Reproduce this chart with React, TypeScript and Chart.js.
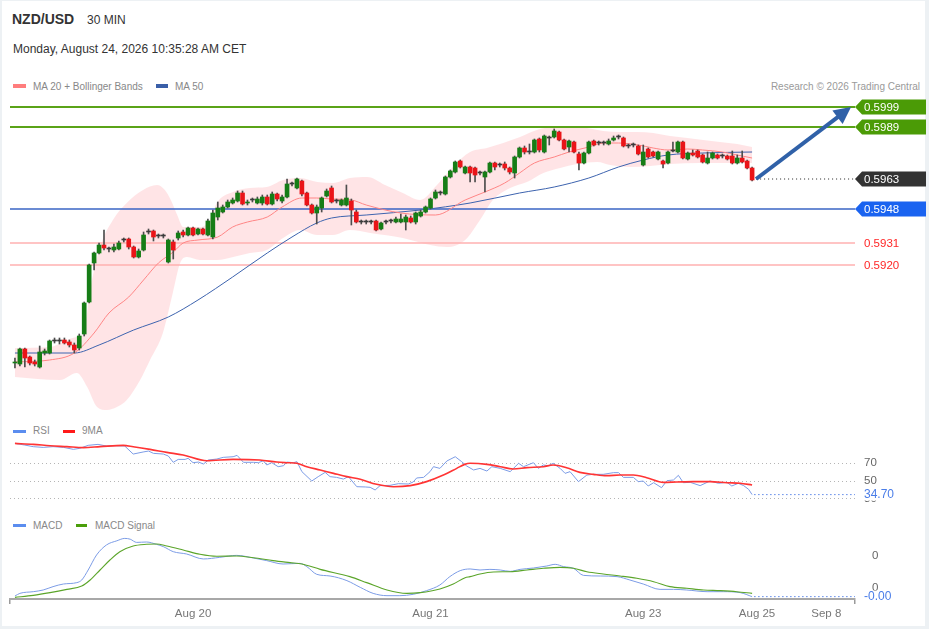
import React, { useEffect, useRef } from 'react';
import { Chart, registerables } from 'chart.js';
Chart.register(...registerables);

const FONT = '"Liberation Sans", Arial, Helvetica, sans-serif';
Chart.defaults.font.family = FONT;

// ---------- price candles (30 min) ----------
const opens = [0.58710,0.58705,0.58780,0.58740,0.58715,0.58690,0.58760,0.58760,0.58820,0.58820,0.58825,0.58815,0.58800,0.58785,0.58855,0.59015,0.59210,0.59260,0.59300,0.59280,0.59275,0.59280,0.59325,0.59330,0.59290,0.59240,0.59275,0.59365,0.59370,0.59345,0.59345,0.59215,0.59315,0.59335,0.59365,0.59350,0.59385,0.59355,0.59380,0.59350,0.59340,0.59440,0.59465,0.59490,0.59510,0.59520,0.59560,0.59510,0.59525,0.59510,0.59510,0.59540,0.59505,0.59555,0.59520,0.59540,0.59605,0.59585,0.59620,0.59560,0.59500,0.59460,0.59485,0.59545,0.59585,0.59520,0.59500,0.59500,0.59520,0.59465,0.59415,0.59415,0.59415,0.59420,0.59380,0.59415,0.59420,0.59415,0.59415,0.59415,0.59435,0.59415,0.59445,0.59465,0.59485,0.59535,0.59560,0.59555,0.59640,0.59665,0.59720,0.59660,0.59690,0.59685,0.59660,0.59640,0.59665,0.59710,0.59700,0.59705,0.59685,0.59660,0.59740,0.59785,0.59765,0.59765,0.59830,0.59765,0.59835,0.59840,0.59865,0.59825,0.59790,0.59815,0.59755,0.59710,0.59760,0.59820,0.59810,0.59810,0.59805,0.59825,0.59840,0.59835,0.59795,0.59800,0.59795,0.59700,0.59780,0.59765,0.59730,0.59720,0.59710,0.59770,0.59765,0.59815,0.59730,0.59760,0.59770,0.59750,0.59710,0.59735,0.59750,0.59745,0.59745,0.59745,0.59710,0.59735,0.59720,0.59685];
const highs = [0.58735,0.58785,0.58785,0.58745,0.58725,0.58795,0.58780,0.58825,0.58835,0.58835,0.58835,0.58825,0.58810,0.58855,0.59015,0.59205,0.59265,0.59310,0.59375,0.59290,0.59305,0.59320,0.59335,0.59335,0.59295,0.59280,0.59365,0.59380,0.59375,0.59355,0.59355,0.59330,0.59325,0.59370,0.59375,0.59390,0.59390,0.59385,0.59385,0.59430,0.59475,0.59515,0.59500,0.59525,0.59535,0.59570,0.59570,0.59525,0.59535,0.59540,0.59550,0.59550,0.59565,0.59560,0.59550,0.59630,0.59615,0.59635,0.59625,0.59565,0.59505,0.59500,0.59540,0.59580,0.59595,0.59530,0.59530,0.59600,0.59530,0.59475,0.59425,0.59425,0.59425,0.59425,0.59415,0.59425,0.59430,0.59440,0.59455,0.59450,0.59445,0.59465,0.59475,0.59495,0.59535,0.59575,0.59570,0.59645,0.59675,0.59720,0.59725,0.59695,0.59695,0.59690,0.59670,0.59670,0.59715,0.59715,0.59710,0.59715,0.59690,0.59745,0.59790,0.59795,0.59805,0.59830,0.59835,0.59850,0.59845,0.59880,0.59870,0.59830,0.59825,0.59820,0.59765,0.59765,0.59820,0.59825,0.59820,0.59820,0.59830,0.59845,0.59850,0.59840,0.59805,0.59810,0.59800,0.59800,0.59785,0.59770,0.59770,0.59725,0.59770,0.59815,0.59820,0.59820,0.59765,0.59775,0.59775,0.59755,0.59765,0.59765,0.59755,0.59755,0.59750,0.59770,0.59750,0.59770,0.59725,0.59690];
const lows = [0.58685,0.58695,0.58690,0.58700,0.58695,0.58685,0.58750,0.58755,0.58810,0.58805,0.58805,0.58790,0.58760,0.58775,0.58845,0.59010,0.59175,0.59255,0.59275,0.59265,0.59265,0.59275,0.59315,0.59280,0.59235,0.59235,0.59270,0.59355,0.59320,0.59335,0.59335,0.59210,0.59230,0.59325,0.59340,0.59345,0.59345,0.59350,0.59350,0.59345,0.59330,0.59425,0.59460,0.59485,0.59505,0.59515,0.59500,0.59500,0.59515,0.59505,0.59500,0.59500,0.59500,0.59520,0.59510,0.59535,0.59595,0.59580,0.59545,0.59495,0.59455,0.59405,0.59465,0.59540,0.59510,0.59510,0.59495,0.59495,0.59400,0.59410,0.59405,0.59405,0.59405,0.59370,0.59375,0.59405,0.59410,0.59410,0.59410,0.59375,0.59410,0.59405,0.59440,0.59460,0.59480,0.59530,0.59550,0.59550,0.59635,0.59660,0.59685,0.59655,0.59615,0.59615,0.59650,0.59565,0.59660,0.59675,0.59690,0.59675,0.59655,0.59635,0.59735,0.59755,0.59755,0.59760,0.59765,0.59760,0.59800,0.59835,0.59820,0.59775,0.59765,0.59760,0.59675,0.59705,0.59755,0.59795,0.59800,0.59800,0.59800,0.59820,0.59830,0.59790,0.59785,0.59790,0.59750,0.59695,0.59735,0.59740,0.59725,0.59685,0.59705,0.59765,0.59760,0.59730,0.59725,0.59745,0.59735,0.59710,0.59705,0.59730,0.59730,0.59735,0.59725,0.59705,0.59705,0.59710,0.59680,0.59620];
const closes = [0.58715,0.58780,0.58735,0.58710,0.58705,0.58765,0.58770,0.58820,0.58820,0.58820,0.58810,0.58800,0.58775,0.58845,0.59010,0.59200,0.59260,0.59300,0.59285,0.59280,0.59290,0.59310,0.59325,0.59290,0.59240,0.59270,0.59350,0.59365,0.59340,0.59345,0.59345,0.59325,0.59275,0.59360,0.59350,0.59385,0.59350,0.59380,0.59355,0.59420,0.59460,0.59485,0.59490,0.59515,0.59525,0.59560,0.59505,0.59515,0.59525,0.59530,0.59540,0.59505,0.59555,0.59530,0.59540,0.59605,0.59605,0.59630,0.59555,0.59500,0.59460,0.59490,0.59535,0.59570,0.59515,0.59520,0.59525,0.59535,0.59475,0.59415,0.59415,0.59415,0.59415,0.59375,0.59410,0.59415,0.59420,0.59430,0.59430,0.59440,0.59415,0.59460,0.59465,0.59490,0.59530,0.59565,0.59560,0.59640,0.59670,0.59715,0.59690,0.59690,0.59660,0.59650,0.59660,0.59665,0.59710,0.59690,0.59700,0.59685,0.59665,0.59740,0.59785,0.59765,0.59765,0.59825,0.59775,0.59845,0.59835,0.59870,0.59825,0.59780,0.59820,0.59765,0.59710,0.59760,0.59815,0.59800,0.59810,0.59810,0.59820,0.59835,0.59840,0.59795,0.59795,0.59800,0.59755,0.59765,0.59740,0.59745,0.59765,0.59705,0.59765,0.59770,0.59815,0.59735,0.59760,0.59750,0.59740,0.59715,0.59735,0.59760,0.59735,0.59745,0.59730,0.59710,0.59735,0.59715,0.59685,0.59625];

// ---------- overlays (x = candle index) ----------
const ma20X = [0,7,12,16,19,23,26,29,32,34,37,41,44,47,51,54,58,61,64,68,71,78,85,91,95,99,102,105,109,112,116,119,122,126,129,132,136,139,143,146,149];
const ma20 = [0.58715,0.58725,0.58760,0.58860,0.58960,0.59040,0.59125,0.59210,0.59265,0.59310,0.59325,0.59340,0.59390,0.59415,0.59440,0.59490,0.59535,0.59535,0.59530,0.59525,0.59500,0.59460,0.59450,0.59525,0.59565,0.59610,0.59660,0.59710,0.59740,0.59765,0.59790,0.59810,0.59810,0.59800,0.59785,0.59775,0.59780,0.59775,0.59765,0.59750,0.59735];
const ma50X = [0,12,17,24,31,37,44,51,56,61,64,71,82,92,102,109,116,122,127,132,139,149];
const ma50 = [0.58760,0.58760,0.58800,0.58875,0.58940,0.59025,0.59140,0.59260,0.59340,0.59410,0.59435,0.59450,0.59475,0.59510,0.59560,0.59590,0.59635,0.59690,0.59725,0.59750,0.59760,0.59765];
const bbUpperX = [0,7,12.5,13.8,15.2,17.2,19.8,22.6,25.9,28.7,30.3,31.5,32.8,34,37.4,39.4,40.8,44.1,47.5,50.9,54.2,57.6,61.1,64.3,67.7,71.2,74.8,78.4,81.9,85.3,88.5,92,95.4,98.7,102.1,105.5,108.8,112.2,115.6,118.9,122.3,125.8,129,132.4,135.9,139.1,142.5,146,149];
const bbUpper = [0.58785,0.58790,0.58840,0.58850,0.59075,0.59290,0.59425,0.59510,0.59575,0.59600,0.59575,0.59525,0.59450,0.59390,0.59390,0.59425,0.59510,0.59565,0.59585,0.59590,0.59625,0.59635,0.59615,0.59610,0.59635,0.59640,0.59600,0.59560,0.59525,0.59600,0.59690,0.59765,0.59785,0.59810,0.59840,0.59875,0.59890,0.59890,0.59885,0.59870,0.59865,0.59865,0.59860,0.59845,0.59835,0.59825,0.59815,0.59805,0.59790];
const bbLowerX = [0,9.1,12.5,14.6,16.6,18.6,20.6,22.6,25.3,27.3,29.9,31.9,33.4,34.8,37.4,40.8,44.1,47.5,50.9,54.2,57.6,61.1,64.3,67.7,71.8,78.4,83.9,87.3,91,94,96.6,100.1,103.5,106.8,110.2,113.6,117.7,120.3,124.3,128.4,132.4,138.5,149];
const bbLower = [0.58640,0.58625,0.58660,0.58590,0.58490,0.58475,0.58490,0.58525,0.58625,0.58725,0.58860,0.59060,0.59210,0.59240,0.59225,0.59225,0.59240,0.59260,0.59275,0.59335,0.59375,0.59350,0.59350,0.59375,0.59360,0.59335,0.59300,0.59290,0.59325,0.59425,0.59525,0.59585,0.59615,0.59660,0.59685,0.59705,0.59715,0.59700,0.59690,0.59695,0.59705,0.59710,0.59710];

// ---------- levels ----------
const resistanceLevels = [0.5999, 0.5989];
const lastPrice = 0.5963;
const pivotLevel = 0.5948;
const supportLevels = [0.5931, 0.5920];
const arrowFrom = [149.8, 0.5963];
const arrowTo = [169, 0.5999];

// ---------- RSI ----------
const rsiX = [0,2,3.7,5.7,7.7,9.8,11.8,13.1,14.8,16.8,18.5,20.2,22.2,23.9,25.9,27,28,30,31,32,33,34.4,35,36,37.1,38.1,39.1,40.8,42.1,44.1,44.9,46.2,48.2,49.2,50.2,50.9,51.9,53.2,54.3,54.9,56.3,57,58,60,61.3,62.7,63.7,65,66.4,67.4,69.1,70.8,71.8,72.8,73.8,75.8,77.5,79.5,80.5,81.2,82.6,83.9,84.6,85.9,87.3,89,90.3,91.3,92.7,94,95.4,96.4,98.1,100.1,101.8,102.8,104.8,105.8,106.8,107.8,108.8,110.2,111.2,112.2,113.9,115.6,116.9,118.9,121,122,123,125,126,127,128,129.1,130.7,131.8,133.1,134.1,135.1,136.5,138.5,140.5,142.2,143.9,144.9,146.2,147.3,148.3,149];
const rsi = [92.3,90.4,88.6,87.8,88.6,87.8,85.6,86.7,90.1,91.2,89.3,89.7,89.3,80.3,82.6,83.7,81.1,80.3,78.1,71,74.3,74.3,75.5,70.6,71.3,69.1,73.6,74.7,76.6,77.3,78.8,71,71,70.6,72.8,68,70.6,66.1,67.2,71.3,70.6,71.7,60.5,50,54.9,59.7,54.9,54.1,52.2,54.9,43.6,43.3,42.9,39.9,44.8,45.1,47,46.6,48.9,53.4,54.1,60.5,66.1,64.2,72.5,77.3,71.7,66.9,62.4,64.2,61.2,66.1,64.2,60.5,69.9,66.1,70.6,64.2,68,67.2,69.9,64.2,58.6,60.5,49.3,56.7,57.5,57.5,59.4,59.4,54.1,54.1,49.3,50,44.4,48.1,42.5,50.4,51.1,56.4,48.1,48.5,44.8,50,47.4,48.5,44.4,47.4,44.8,40.6,34.7];
const rsiMaX = [0,3.7,7.1,10.5,13.8,17.2,21.9,23.9,27.3,30.7,34,38.8,44.1,49.5,52.9,54.9,57,59,61.7,64.4,67.1,69.8,73.1,76.5,79.9,83.2,86.6,89.3,90.9,92,95.4,98.1,100.7,103.5,106.8,108.8,111.5,114.2,116.9,119.6,122.3,125,127.7,131.1,133.8,137.1,140.5,143.9,146.6,149];
const rsiMa = [92.3,91.2,89.7,88.6,87.5,88.6,90.1,88.6,85.6,82.2,79.2,72.8,74.3,73.6,71.3,70.6,69.9,66.1,62.4,58.6,54.9,51.9,46.3,43.6,44.8,49.3,56.7,64.2,68.7,69.9,68.7,66.1,63.5,65,66.1,68,65,59.7,57.5,56,56.7,56.7,53.7,48.5,48.9,49.3,49.3,48.1,47.4,45.5];
const rsiTicks = [30, 50, 70];

// ---------- MACD ----------
const macdX = [0,1,3.7,5.7,7.7,9.8,12.5,13.5,14.8,16.5,18.5,20.6,22.2,23.3,24.6,26.6,28.6,30,32,34.7,38.1,41.4,44.8,48.2,50.9,54.2,57.6,59,61,63.7,67.1,69.8,72.4,75.2,77.8,80.5,83.2,85.9,87.9,90,92,94,96,98.1,100.1,102.1,104.8,107.5,109.2,110.9,112.9,114.9,118.3,121.7,124.3,127,130.4,133.1,135.8,139.9,143.2,146.6,149];
const macd = [-0.0001,-0.000067,-0.000046,-0.000025,0.000017,0.00005,0.000067,0.0001,0.000225,0.000413,0.000538,0.00059,0.00062,0.00061,0.00057,0.000575,0.000546,0.000517,0.000454,0.000425,0.000363,0.000383,0.000408,0.000375,0.000342,0.0003,0.000308,0.000267,0.000171,0.00015,0.000092,0.000008,-0.000067,-0.000096,-0.000096,-0.000079,-0.000033,0.000038,0.000142,0.000217,0.000238,0.000225,0.000233,0.000225,0.000208,0.000233,0.00025,0.000275,0.000296,0.000267,0.000246,0.000158,0.00015,0.000142,0.0001,0.00005,-0.000017,-0.000017,-0.000025,-0.000046,-0.000046,-0.000058,-0.000108];
const signalX = [0,3.7,7.1,10.5,13.5,15.2,17.2,19.2,21.2,23.9,26.6,28.6,30.7,34,37.4,40.8,44.8,48.2,52.2,55.6,58,61.7,67.7,71.1,75.2,79.2,81.9,85.9,88.6,91,92,94,96.7,100.1,103.5,106.8,110.2,112.9,115.6,118.9,122.3,125.7,129.1,132.4,135.8,139.2,142.5,145.9,149];
const signal = [-0.000117,-0.000092,-0.000058,-0.000017,0.000025,0.0001,0.000225,0.00035,0.000454,0.000525,0.000546,0.00055,0.000525,0.000475,0.000421,0.000396,0.0004,0.000379,0.000342,0.000317,0.0003,0.000233,0.000142,0.000067,-0.000025,-0.000067,-0.000058,-0.0000125,0.00005,0.000129,0.000142,0.000175,0.0002,0.000204,0.000225,0.000246,0.000258,0.000246,0.000204,0.000175,0.00015,0.000121,0.000079,0.000017,-0.000004,-0.000025,-0.000033,-0.000046,-0.000067];
const macdTicks = [0, 0.0004];

// ---------- time axis ----------
const xTickIdx = [36, 84, 127, 150, 164];
const xTickLabels = ['Aug 20', 'Aug 21', 'Aug 23', 'Aug 25', 'Sep 8'];
const X_MIN = -1;
const X_MAX = 169.8;

const pts = (xs: number[], ys: number[]) => xs.map((x, i) => ({ x, y: ys[i] }));

const AXIS_W = 74;
const PAD_L = 10;

function fixWidth(s: any) {
  s.width = AXIS_W;
  s.paddingTop = 0;
  s.paddingBottom = 0;
}

function drawTag(ctx: CanvasRenderingContext2D, xTip: number, y: number, bg: string, text: string) {
  const h = 15, w = 71;
  ctx.beginPath();
  ctx.moveTo(xTip, y);
  ctx.lineTo(xTip + 7, y - h / 2);
  ctx.lineTo(xTip + w, y - h / 2);
  ctx.lineTo(xTip + w, y + h / 2);
  ctx.lineTo(xTip + 7, y + h / 2);
  ctx.closePath();
  ctx.fillStyle = bg;
  ctx.fill();
  ctx.fillStyle = '#ffffff';
  ctx.font = `11.5px ${FONT}`;
  ctx.textBaseline = 'middle';
  ctx.textAlign = 'left';
  ctx.fillText(text, xTip + 9, y + 0.5);
}

const priceDecor = {
  id: 'priceDecor',
  afterDatasetDraw(chart: any, args: any) {
    if (args.index !== 0) return;
    const { ctx, chartArea: a, scales: { y } } = chart;
    ctx.save();
    const line = (v: number, color: string, w: number) => {
      const py = y.getPixelForValue(v);
      ctx.strokeStyle = color; ctx.lineWidth = w;
      ctx.beginPath(); ctx.moveTo(a.left, py); ctx.lineTo(a.right, py); ctx.stroke();
    };
    resistanceLevels.forEach(v => line(v, '#5aa318', 2));
    line(pivotLevel, '#3a64c4', 1.3);
    supportLevels.forEach(v => line(v, '#ffb0b0', 1.5));
    ctx.restore();
  },
  afterDraw(chart: any) {
    const { ctx, chartArea: a, scales: { x, y } } = chart;
    ctx.save();
    const lastIdx = closes.length - 1;
    const lp = y.getPixelForValue(lastPrice);
    ctx.setLineDash([1, 3]);
    ctx.strokeStyle = '#222';
    ctx.lineWidth = 1;
    ctx.beginPath();
    ctx.moveTo(x.getPixelForValue(lastIdx) + 4, lp);
    ctx.lineTo(a.right, lp);
    ctx.stroke();
    ctx.setLineDash([]);
    resistanceLevels.forEach(v => drawTag(ctx, a.right, y.getPixelForValue(v), '#4b9b06', v.toFixed(4)));
    drawTag(ctx, a.right, lp, '#333333', lastPrice.toFixed(4));
    drawTag(ctx, a.right, y.getPixelForValue(pivotLevel), '#1a63f0', pivotLevel.toFixed(4));
    ctx.fillStyle = '#ff2626';
    ctx.font = `11.5px ${FONT}`;
    ctx.textBaseline = 'middle';
    supportLevels.forEach(v => ctx.fillText(v.toFixed(4), a.right + 9, y.getPixelForValue(v) + 0.5));
    const x1 = x.getPixelForValue(arrowFrom[0]), y1 = y.getPixelForValue(arrowFrom[1]);
    const x2 = x.getPixelForValue(arrowTo[0]), y2 = y.getPixelForValue(arrowTo[1]);
    const ang = Math.atan2(y2 - y1, x2 - x1);
    const hl = 17, hw = 8.5;
    const bx = x2 - hl * Math.cos(ang), by = y2 - hl * Math.sin(ang);
    ctx.strokeStyle = '#3061a8';
    ctx.fillStyle = '#3061a8';
    ctx.lineWidth = 4;
    ctx.beginPath(); ctx.moveTo(x1, y1); ctx.lineTo(bx + 2 * Math.cos(ang), by + 2 * Math.sin(ang)); ctx.stroke();
    ctx.beginPath();
    ctx.moveTo(x2, y2);
    ctx.lineTo(bx + hw * Math.sin(ang), by - hw * Math.cos(ang));
    ctx.lineTo(bx - hw * Math.sin(ang), by + hw * Math.cos(ang));
    ctx.closePath(); ctx.fill();
    ctx.restore();
  },
};

function lastValuePlugin(id: string, xs: number[], ys: number[], digits: number) {
  return {
    id,
    afterDraw(chart: any) {
      const { ctx, chartArea: a, scales: { x, y } } = chart;
      const lx = x.getPixelForValue(xs[xs.length - 1]);
      const lv = ys[ys.length - 1];
      const ly = y.getPixelForValue(lv);
      ctx.save();
      ctx.setLineDash([1.5, 2.5]);
      ctx.strokeStyle = '#5b86e8';
      ctx.lineWidth = 1;
      ctx.beginPath(); ctx.moveTo(lx + 2, ly); ctx.lineTo(a.right, ly); ctx.stroke();
      ctx.setLineDash([]);
      ctx.fillStyle = '#ffffff';
      ctx.fillRect(a.right + 3, ly - 6, 50, 12);
      ctx.fillStyle = '#4a7de8';
      ctx.font = `12px ${FONT}`;
      ctx.textBaseline = 'middle';
      ctx.textAlign = 'left';
      ctx.fillText(lv.toFixed(digits), a.right + 9, ly + 0.5);
      ctx.restore();
    },
  };
}

const baseOpts = {
  responsive: false,
  animation: false as const,
  events: [] as any[],
  layout: { padding: { left: PAD_L, right: 0, top: 0, bottom: 0 } },
  plugins: { legend: { display: false }, tooltip: { enabled: false } },
};

function makePrice(canvas: HTMLCanvasElement) {
  const idx = opens.map((_, i) => i);
  const bodies = idx.map(i => ({ x: i, y: [opens[i], closes[i]] }));
  const wicks = idx.map(i => ({ x: i, y: [lows[i], highs[i]] }));
  const colors = idx.map(i => closes[i] > opens[i] ? '#167d16' : closes[i] < opens[i] ? '#ea1418' : '#3a3a3a');
  return new Chart(canvas, {
    type: 'bar',
    data: {
      datasets: [
        { type: 'line', data: pts(bbUpperX, bbUpper), fill: '+1', backgroundColor: 'rgba(255,190,196,0.42)', borderColor: 'transparent', borderWidth: 0, pointRadius: 0, tension: 0.4, cubicInterpolationMode: 'monotone', order: 10 } as any,
        { type: 'line', data: pts(bbLowerX, bbLower), fill: false, borderColor: 'transparent', borderWidth: 0, pointRadius: 0, tension: 0.4, cubicInterpolationMode: 'monotone', order: 11 } as any,
        { type: 'line', data: pts(ma50X, ma50), fill: false, borderColor: '#3d63ae', borderWidth: 1, pointRadius: 0, cubicInterpolationMode: 'monotone', order: 5 } as any,
        { type: 'line', data: pts(ma20X, ma20), fill: false, borderColor: '#ff8585', borderWidth: 1, pointRadius: 0, cubicInterpolationMode: 'monotone', order: 4 } as any,
        { type: 'bar', data: wicks, backgroundColor: '#4d4d4d', barThickness: 1, grouped: false, order: 2 } as any,
        { type: 'bar', data: bodies, backgroundColor: colors, barThickness: 4, grouped: false, minBarLength: 1, order: 1 } as any,
      ],
    },
    options: {
      ...baseOpts,
      scales: {
        x: { type: 'linear', min: X_MIN, max: X_MAX, display: false, offset: false },
        y: { position: 'right', min: 0.5845, max: 0.6005, grid: { display: false }, border: { display: false }, ticks: { display: false }, afterFit: fixWidth },
      },
    } as any,
    plugins: [priceDecor],
  });
}

function makeRsi(canvas: HTMLCanvasElement) {
  return new Chart(canvas, {
    type: 'line',
    data: {
      datasets: [
        { data: pts(rsiX, rsi), borderColor: '#7c9ce6', borderWidth: 1, pointRadius: 0, tension: 0, order: 1 },
        { data: pts(rsiMaX, rsiMa), borderColor: '#ff3434', borderWidth: 1.6, pointRadius: 0, cubicInterpolationMode: 'monotone', order: 0 },
      ],
    },
    options: {
      ...baseOpts,
      scales: {
        x: { type: 'linear', min: X_MIN, max: X_MAX, display: false },
        y: {
          position: 'right', min: 21.9, max: 100.6,
          afterBuildTicks: (s: any) => { s.ticks = rsiTicks.map(v => ({ value: v })); },
          ticks: { padding: 9, color: '#666', font: { size: 11.5, family: FONT }, callback: (v: any) => String(v) },
          grid: { color: '#b5b5b5', drawTicks: false, lineWidth: 1 },
          border: { display: false, dash: [1, 3] },
          afterFit: fixWidth,
        },
      },
    } as any,
    plugins: [lastValuePlugin('rsiLast', rsiX, rsi, 2)],
  });
}

function makeMacd(canvas: HTMLCanvasElement) {
  const nTicks = xTickIdx.length + 2;
  return new Chart(canvas, {
    type: 'line',
    data: {
      datasets: [
        { data: pts(macdX, macd), borderColor: '#7c9ce6', borderWidth: 1, pointRadius: 0, cubicInterpolationMode: 'monotone', order: 1 },
        { data: pts(signalX, signal), borderColor: '#5ba52a', borderWidth: 1.1, pointRadius: 0, cubicInterpolationMode: 'monotone', order: 0 },
      ],
    },
    options: {
      ...baseOpts,
      scales: {
        x: {
          type: 'linear', min: X_MIN, max: X_MAX, position: 'bottom',
          afterBuildTicks: (s: any) => { s.ticks = [X_MIN, ...xTickIdx, X_MAX].map(v => ({ value: v })); },
          ticks: {
            autoSkip: false, maxRotation: 0, padding: 3, color: '#777', font: { size: 11.5, family: FONT },
            callback: (v: any) => { const k = xTickIdx.indexOf(v); return k >= 0 ? xTickLabels[k] : ''; },
          },
          grid: {
            drawOnChartArea: false, drawTicks: true, tickLength: 5, lineWidth: 1.5,
            color: (c: any) => (c.index === 0 || c.index === nTicks - 1) ? '#9a9a9a' : 'rgba(0,0,0,0)',
          },
          border: { display: true, color: '#a8a8a8', width: 2 },
          afterFit: (s: any) => { s.height = 30; s.paddingLeft = 0; s.paddingRight = 0; },
        },
        y: {
          position: 'right', min: -0.0001375, max: 0.000725,
          afterBuildTicks: (s: any) => { s.ticks = macdTicks.map(v => ({ value: v })); },
          ticks: { padding: 9, color: '#666', font: { size: 11.5, family: FONT }, callback: (v: any) => Number(v).toFixed(0) },
          grid: { display: false },
          border: { display: false },
          afterFit: fixWidth,
        },
      },
    } as any,
    plugins: [lastValuePlugin('macdLast', macdX, macd, 2)],
  });
}

const T: React.CSSProperties = { position: 'absolute', whiteSpace: 'nowrap', lineHeight: 1, fontFamily: FONT };
const sw = (left: number, top: number, width: number, height: number, background: string): React.CSSProperties =>
  ({ position: 'absolute', left, top, width, height, background });

export default function App() {
  const priceRef = useRef<HTMLCanvasElement>(null);
  const rsiRef = useRef<HTMLCanvasElement>(null);
  const macdRef = useRef<HTMLCanvasElement>(null);

  useEffect(() => {
    document.body.style.margin = '0';
    const charts = [
      makePrice(priceRef.current as HTMLCanvasElement),
      makeRsi(rsiRef.current as HTMLCanvasElement),
      makeMacd(macdRef.current as HTMLCanvasElement),
    ];
    return () => charts.forEach(c => c.destroy());
  }, []);

  return (
    <div style={{ position: 'fixed', left: 0, top: 0, width: 929, height: 629, background: '#edf1f4', overflow: 'hidden' }}>
      <div style={sw(2, 1, 923, 625, '#ffffff')} />
      <div style={{ ...T, left: 12, top: 12.2, fontSize: 14, fontWeight: 'bold', color: '#333' }}>NZD/USD</div>
      <div style={{ ...T, left: 87, top: 13.8, fontSize: 12, color: '#333' }}>30 MIN</div>
      <div style={{ ...T, left: 13, top: 42.8, fontSize: 12, color: '#333' }}>Monday, August 24, 2026 10:35:28 AM CET</div>

      <div style={sw(13, 84, 13, 4, '#ff7d7d')} />
      <div style={{ ...T, left: 33, top: 81.5, fontSize: 10, color: '#888' }}>MA 20 + Bollinger Bands</div>
      <div style={sw(156, 84, 12, 4, '#3a5fa8')} />
      <div style={{ ...T, left: 175, top: 81.5, fontSize: 10, color: '#888' }}>MA 50</div>
      <div style={{ ...T, right: 9, top: 81.5, fontSize: 10, color: '#9a9a9a' }}>Research © 2026 Trading Central</div>

      <div style={sw(13, 430, 13, 3, '#5b8def')} />
      <div style={{ ...T, left: 33, top: 425.5, fontSize: 10, color: '#888' }}>RSI</div>
      <div style={sw(63, 430, 12, 3, '#ff1a1a')} />
      <div style={{ ...T, left: 82, top: 425.5, fontSize: 10, color: '#888' }}>9MA</div>

      <div style={sw(13, 524, 13, 3, '#5b8def')} />
      <div style={{ ...T, left: 33, top: 520.8, fontSize: 10, color: '#888' }}>MACD</div>
      <div style={sw(76, 524, 11, 3, '#4a9e0a')} />
      <div style={{ ...T, left: 95, top: 520.8, fontSize: 10, color: '#888' }}>MACD Signal</div>

      <canvas ref={priceRef} width={929} height={320} style={{ position: 'absolute', left: 0, top: 95, width: 929, height: 320 }} />
      <canvas ref={rsiRef} width={929} height={70} style={{ position: 'absolute', left: 0, top: 436, width: 929, height: 70 }} />
      <canvas ref={macdRef} width={929} height={99} style={{ position: 'absolute', left: 0, top: 530, width: 929, height: 99 }} />
    </div>
  );
}
